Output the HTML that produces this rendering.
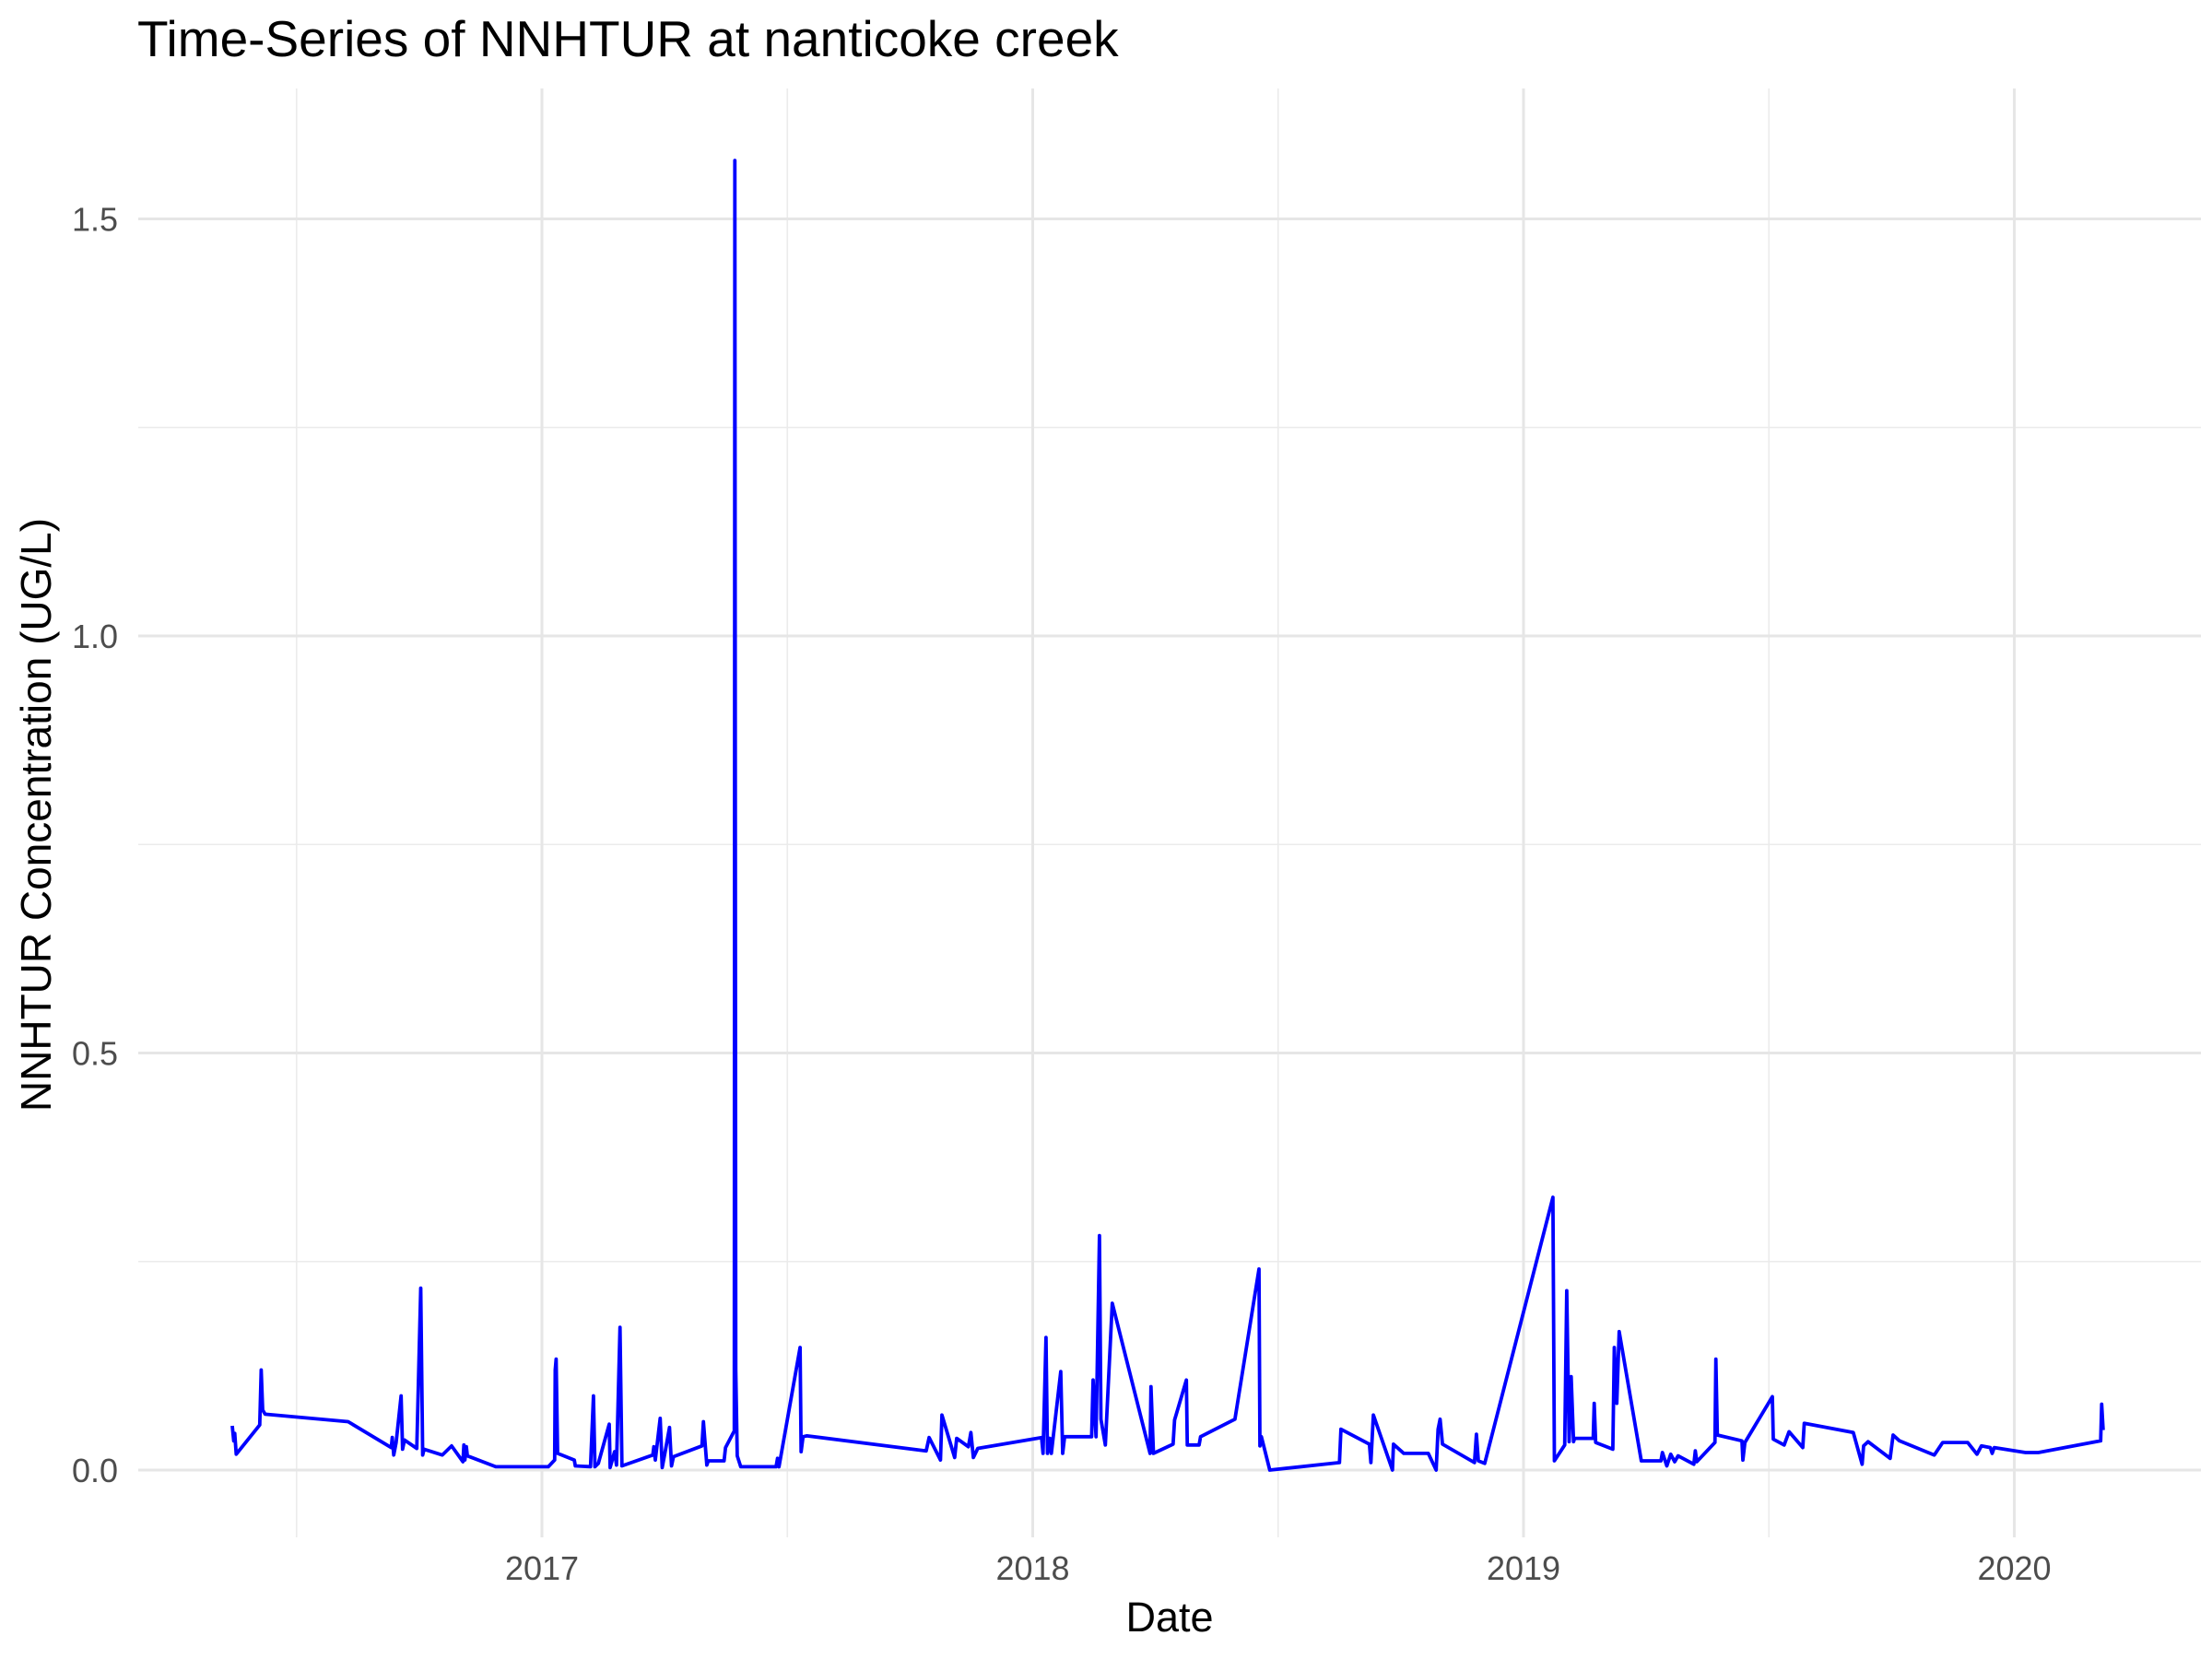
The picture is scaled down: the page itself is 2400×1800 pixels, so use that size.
<!DOCTYPE html>
<html><head><meta charset="utf-8"><style>
html,body{margin:0;padding:0;background:#fff;}
svg{display:block;font-family:"Liberation Sans",sans-serif;}
</style></head><body>
<svg id="chart" width="2400" height="1800" viewBox="0 0 2400 1800">
<text x="149" y="61" font-size="55" fill="#000">Time-Series of NNHTUR at nanticoke creek</text>
<g id="grid"></g>
<g id="yticks"></g>
<g id="xticks"></g>
<g id="series"></g>
<text x="1269" y="1770" font-size="45" text-anchor="middle" fill="#000">Date</text>
<text transform="translate(55,884) rotate(-90)" font-size="46" text-anchor="middle" fill="#000">NNHTUR Concentration (UG/L)</text>
</svg>
<script>
const yTickValues=[0,0.5,1.0,1.5];
const yTickLabels=["0.0","0.5","1.0","1.5"];
const yMinorValues=[0.25,0.75,1.25];
const xTickValues=[2017,2018,2019,2020];
const xTickLabels=["2017","2018","2019","2020"];
const xMinorValues=[2016.5,2017.5,2018.5,2019.5];
const dates=[2016.369,2016.372,2016.374,2016.377,2016.425,2016.428,2016.431,2016.436,2016.605,2016.693,2016.695,2016.698,2016.703,2016.713,2016.716,2016.72,2016.745,2016.753,2016.757,2016.76,2016.797,2016.816,2016.839,2016.841,2016.843,2016.846,2016.848,2016.906,2017.013,2017.026,2017.027,2017.029,2017.032,2017.066,2017.068,2017.099,2017.105,2017.108,2017.115,2017.137,2017.139,2017.148,2017.152,2017.159,2017.163,2017.226,2017.228,2017.231,2017.241,2017.245,2017.251,2017.26,2017.264,2017.268,2017.326,2017.329,2017.336,2017.339,2017.371,2017.374,2017.392,2017.393,2017.395,2017.398,2017.405,2017.477,2017.48,2017.483,2017.526,2017.528,2017.532,2017.54,2017.783,2017.789,2017.812,2017.815,2017.841,2017.845,2017.869,2017.874,2017.879,2017.888,2018.018,2018.021,2018.027,2018.03,2018.035,2018.038,2018.057,2018.061,2018.065,2018.12,2018.123,2018.129,2018.136,2018.139,2018.148,2018.162,2018.239,2018.241,2018.246,2018.286,2018.289,2018.313,2018.315,2018.339,2018.342,2018.412,2018.461,2018.463,2018.466,2018.483,2018.625,2018.628,2018.686,2018.689,2018.694,2018.733,2018.735,2018.756,2018.806,2018.822,2018.826,2018.83,2018.835,2018.9,2018.904,2018.908,2018.921,2019.06,2019.063,2019.084,2019.088,2019.093,2019.097,2019.102,2019.104,2019.142,2019.144,2019.147,2019.182,2019.185,2019.19,2019.195,2019.24,2019.28,2019.283,2019.292,2019.3,2019.308,2019.315,2019.347,2019.35,2019.353,2019.39,2019.392,2019.395,2019.445,2019.447,2019.451,2019.507,2019.509,2019.531,2019.541,2019.569,2019.572,2019.672,2019.69,2019.693,2019.702,2019.747,2019.753,2019.766,2019.837,2019.854,2019.905,2019.924,2019.933,2019.951,2019.955,2019.959,2020.023,2020.049,2020.176,2020.178,2020.181];
const values=[0.053,0.035,0.044,0.019,0.054,0.12,0.072,0.067,0.058,0.027,0.039,0.018,0.033,0.089,0.025,0.036,0.026,0.218,0.018,0.025,0.018,0.029,0.010,0.030,0.012,0.028,0.017,0.004,0.004,0.012,0.12,0.133,0.02,0.012,0.005,0.004,0.089,0.004,0.008,0.055,0.003,0.022,0.006,0.171,0.005,0.018,0.028,0.012,0.062,0.003,0.022,0.051,0.005,0.016,0.029,0.058,0.006,0.011,0.011,0.027,0.047,1.57,0.12,0.017,0.004,0.004,0.014,0.004,0.147,0.022,0.040,0.041,0.023,0.039,0.012,0.066,0.015,0.038,0.028,0.045,0.015,0.026,0.039,0.020,0.159,0.020,0.038,0.020,0.118,0.020,0.040,0.040,0.108,0.040,0.281,0.061,0.030,0.200,0.020,0.100,0.020,0.031,0.060,0.108,0.030,0.030,0.040,0.061,0.241,0.029,0.040,0.0,0.009,0.049,0.031,0.009,0.066,0.0,0.031,0.020,0.020,0.0,0.049,0.061,0.031,0.009,0.043,0.011,0.008,0.327,0.011,0.030,0.215,0.034,0.112,0.034,0.038,0.038,0.080,0.033,0.025,0.147,0.080,0.166,0.011,0.011,0.021,0.005,0.019,0.010,0.017,0.007,0.023,0.010,0.033,0.133,0.042,0.035,0.012,0.033,0.088,0.037,0.030,0.046,0.027,0.056,0.045,0.007,0.029,0.034,0.014,0.042,0.035,0.018,0.033,0.033,0.019,0.029,0.027,0.020,0.027,0.021,0.021,0.035,0.079,0.048];

const NS="http://www.w3.org/2000/svg";
const PL=150,PR=2388,PT=96,PB=1668;
function xs(v){return 588+(v-2017)*532.5;}
function ys(v){return 1595-v*905;}
function mk(tag,attrs,parent){const e=document.createElementNS(NS,tag);for(const k in attrs)e.setAttribute(k,attrs[k]);parent.appendChild(e);return e;}
const grid=document.getElementById('grid');
yMinorValues.forEach(v=>{const l=mk('line',{x1:PL,x2:PR,y1:ys(v),y2:ys(v),stroke:'#ebebeb','stroke-width':1.6},grid);

});
xMinorValues.forEach(v=>{const l=mk('line',{x1:xs(v),x2:xs(v),y1:PT,y2:PB,stroke:'#ebebeb','stroke-width':1.6},grid);

});
yTickValues.forEach(v=>{const l=mk('line',{x1:PL,x2:PR,y1:ys(v),y2:ys(v),stroke:'#e6e6e6','stroke-width':3},grid);

});
xTickValues.forEach(v=>{const l=mk('line',{x1:xs(v),x2:xs(v),y1:PT,y2:PB,stroke:'#e6e6e6','stroke-width':3},grid);

});
const yt=document.getElementById('yticks');
yTickValues.forEach((v,i)=>{const t=mk('text',{x:128,y:ys(v)+13,'font-size':36,'text-anchor':'end',fill:'#4d4d4d'},yt);t.textContent=yTickLabels[i];

});
const xt=document.getElementById('xticks');
xTickValues.forEach((v,i)=>{const t=mk('text',{x:xs(v),y:1714,'font-size':36,'text-anchor':'middle',fill:'#4d4d4d'},xt);t.textContent=xTickLabels[i];

});
const pts=dates.map((d,i)=>xs(d).toFixed(1)+','+ys(values[i]).toFixed(1)).join(' ');
const line=mk('polyline',{points:pts,fill:'none',stroke:'#0000ff','stroke-width':3.8,'stroke-linejoin':'round'},document.getElementById('series'));


</script>
</body></html>
